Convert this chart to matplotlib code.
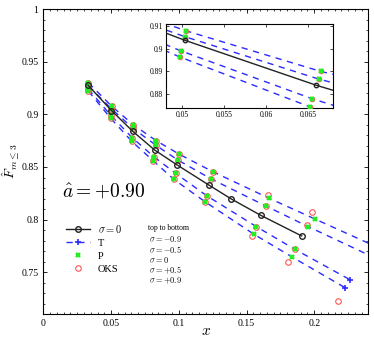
import numpy as np
import matplotlib
matplotlib.use('Agg')
from matplotlib import pyplot as plt
from matplotlib.ticker import MultipleLocator

plt.rcParams['font.family'] = ['Liberation Serif', 'DejaVu Serif']
plt.rcParams['mathtext.fontset'] = 'cm'

# sigma = 0 curve
x_s0 = [0.0329, 0.0503, 0.0660, 0.0822, 0.0988, 0.1225, 0.1388, 0.1605, 0.1907]
F_s0 = [0.9278, 0.9036, 0.8839, 0.8661, 0.8519, 0.8326, 0.8196, 0.8041, 0.7845]

# P points, top to bottom: sigma = -0.9, -0.5, +0.5, +0.9
xp_m09 = [0.0333, 0.0504, 0.0665, 0.0833, 0.1005, 0.1252, 0.1667, 0.2005]
Fp_m09 = [0.9300, 0.9078, 0.8900, 0.8750, 0.8620, 0.8455, 0.8203, 0.8006]
xp_m05 = [0.0333, 0.0503, 0.0663, 0.0833, 0.0993, 0.1240, 0.1642, 0.1956]
Fp_m05 = [0.9270, 0.9052, 0.8866, 0.8705, 0.8566, 0.8386, 0.8130, 0.7933]
xp_p05 = [0.0333, 0.0498, 0.0655, 0.0815, 0.0976, 0.1205, 0.1573, 0.1857]
Fp_p05 = [0.9240, 0.8990, 0.8780, 0.8598, 0.8440, 0.8228, 0.7933, 0.7718]
xp_p09 = [0.0333, 0.0497, 0.0652, 0.0810, 0.0963, 0.1196, 0.1556, 0.1835]
Fp_p09 = [0.9220, 0.8963, 0.8745, 0.8560, 0.8383, 0.8168, 0.7860, 0.7646]

# OKS points
xo_m09 = [0.0333, 0.0504, 0.0665, 0.0833, 0.1005, 0.1252, 0.1655, 0.1983]
Fo_m09 = [0.9300, 0.9078, 0.8900, 0.8750, 0.8620, 0.8455, 0.8234, 0.8073]
xo_m05 = [0.0333, 0.0503, 0.0663, 0.0833, 0.0993, 0.1240, 0.1642, 0.1946]
Fo_m05 = [0.9270, 0.9052, 0.8866, 0.8705, 0.8566, 0.8386, 0.8130, 0.7949]
xo_p05 = [0.0333, 0.0498, 0.0655, 0.0815, 0.0976, 0.1205, 0.1573, 0.1857]
Fo_p05 = [0.9240, 0.8990, 0.8780, 0.8598, 0.8440, 0.8228, 0.7933, 0.7718]
xo_p09 = [0.0333, 0.0497, 0.0652, 0.0810, 0.0963, 0.1196, 0.1539, 0.1803, 0.2173]
Fo_p09 = [0.9220, 0.8963, 0.8745, 0.8560, 0.8383, 0.8168, 0.7845, 0.7601, 0.7230]

# T curves: through P points, plus last point
xt_end = [0.2450, 0.2430, 0.2267, 0.2227]
Ft_end = [0.7747, 0.7647, 0.7427, 0.7354]

xp_all = [xp_m09, xp_m05, xp_p05, xp_p09]
Fp_all = [Fp_m09, Fp_m05, Fp_p05, Fp_p09]
xo_all = [xo_m09, xo_m05, xo_p05, xo_p09]
Fo_all = [Fo_m09, Fo_m05, Fo_p05, Fo_p09]

sigma_labels = ['$\\sigma = -0.9$', '$\\sigma = -0.5$', '$\\sigma = 0$',
                '$\\sigma = +0.5$', '$\\sigma = +0.9$']

blue = '#2b2bff'
green = '#22ee22'
red = '#ff5555'


def draw(ax, ms_scale=1.0):
    handles = {}
    for i in range(4):
        xt = xp_all[i] + [xt_end[i]]
        Ft = Fp_all[i] + [Ft_end[i]]
        lt, = ax.plot(xt, Ft, color=blue, ls=(0, (4.5, 4)), lw=1.0, marker='+',
                      ms=4.5 * ms_scale, mew=1.2, markevery=[len(xt) - 1], zorder=2)
        lo, = ax.plot(xo_all[i], Fo_all[i], ls='none', marker='o', mfc='none',
                      mec=red, ms=4 * ms_scale, mew=0.8, zorder=3)
        lp, = ax.plot(xp_all[i], Fp_all[i], ls='none', marker='x', color=green,
                      ms=3.3 * ms_scale, mew=1.7, zorder=4)
        if i == 0:
            handles['T'], handles['OKS'], handles['P'] = lt, lo, lp
    l0, = ax.plot(x_s0, F_s0, color='#222222', lw=1.0, marker='o', mfc='none',
                  mec='#222222', ms=4 * ms_scale, mew=1.0, zorder=5)
    handles['s0'] = l0
    return handles


fig = plt.figure(figsize=(3.74, 3.38), dpi=100)
ax = fig.add_axes([0.116, 0.070, 0.869, 0.903])
h = draw(ax)
ax.set_xlim(0, 0.24)
ax.set_ylim(0.71, 1.0)
ax.xaxis.set_minor_locator(MultipleLocator(0.005))
ax.yaxis.set_minor_locator(MultipleLocator(0.01))
ax.set_xticks([0, 0.05, 0.1, 0.15, 0.2])
ax.set_xticklabels(['0', '0.05', '0.1', '0.15', '0.2'])
ax.set_yticks([0.75, 0.8, 0.85, 0.9, 0.95, 1.0])
ax.set_yticklabels(['0.75', '0.8', '0.85', '0.9', '0.95', '1'])
ax.tick_params(which='both', direction='in', top=True, right=True, labelsize=7)
ax.tick_params(which='major', length=3, width=0.6)
ax.tick_params(which='minor', length=1.5, width=0.5)
for s in ax.spines.values():
    s.set_linewidth(0.8)
ax.set_xlabel('$x$', fontsize=11, labelpad=-2)
ax.set_ylabel('$\\hat{F}_{m\\leq 3}$', fontsize=10, labelpad=0)

ax.text(0.014, 0.826, '$\\hat{a} = +0.90$', fontsize=14, va='center', ha='left')

leg = ax.legend([h['s0'], h['T'], h['P'], h['OKS']],
                ['$\\sigma = 0$', 'T', 'P', 'OKS'],
                loc='upper left', bbox_to_anchor=(0.04, 0.33), frameon=False,
                fontsize=7.5, handlelength=2.3, labelspacing=0.35,
                handletextpad=0.8)

ax.text(0.322, 0.283, 'top to bottom', transform=ax.transAxes, fontsize=5.5,
        va='center', ha='left')
for k, lab in enumerate(sigma_labels):
    ax.text(0.325, 0.247 - 0.0345 * k, lab, transform=ax.transAxes,
            fontsize=6, va='center', ha='left')

# inset
axi = fig.add_axes([0.443, 0.680, 0.448, 0.248])
draw(axi, ms_scale=0.8)
axi.set_xlim(0.048, 0.068)
axi.set_ylim(0.8739, 0.9106)
axi.set_xticks([0.05, 0.055, 0.06, 0.065])
axi.set_xticklabels(['0.05', '0.055', '0.06', '0.065'])
axi.set_yticks([0.88, 0.89, 0.9, 0.91])
axi.set_yticklabels(['0.88', '0.89', '0.9', '0.91'])
axi.tick_params(which='both', direction='in', top=True, right=True, labelsize=5.5,
                pad=2, length=2, width=0.5)
for s in axi.spines.values():
    s.set_linewidth(0.8)

fig.savefig('out.png', dpi=100)
